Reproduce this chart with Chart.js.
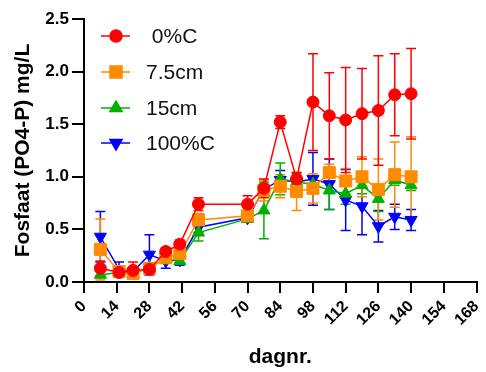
<!DOCTYPE html>
<html>
<head>
<meta charset="utf-8">
<script src="https://cdn.jsdelivr.net/npm/chart.js@4.4.1/dist/chart.umd.min.js"></script>
<style>
  html, body { margin: 0; padding: 0; background: #fff; }
  #wrap { width: 486px; height: 372px; }
</style>
</head>
<body>
<div id="wrap"><canvas id="myChart" width="486" height="372"></canvas></div>
<script>
// days of sampling
const days = [7, 15, 21, 28, 35, 41, 49, 70, 77, 84, 91, 98, 105, 112, 119, 126, 133, 140]
const seriesNames = [' 0%C', '7.5cm', '15cm', '100%C']

// means
const c0 = [0.13, 0.09, 0.11, 0.12, 0.29, 0.36, 0.74, 0.74, 0.89, 1.52, 0.98, 1.71, 1.58, 1.54, 1.60, 1.63, 1.78, 1.79]
const c75 = [0.31, 0.10, 0.08, 0.13, 0.23, 0.27, 0.59, 0.63, 0.87, 0.91, 0.86, 0.89, 1.04, 0.96, 1.00, 0.88, 1.02, 1.00]
const c15 = [0.07, 0.09, 0.08, 0.14, 0.22, 0.20, 0.47, 0.60, 0.68, 0.98, 0.95, 0.93, 0.87, 0.84, 0.92, 0.79, 0.97, 0.92]
const c100 = [0.43, 0.12, 0.10, 0.26, 0.20, 0.21, 0.52, 0.61, 0.88, 0.97, 0.95, 0.98, 0.93, 0.78, 0.72, 0.53, 0.62, 0.59]

// error (SD)
const e0 = [0.07, 0.03, 0.08, 0.05, 0.03, 0.04, 0.06, 0.08, 0.09, 0.06, 0.06, 0.46, 0.41, 0.50, 0.43, 0.52, 0.39, 0.43]
const e75 = [0.29, 0.05, 0.05, 0.05, 0.05, 0.05, 0.06, 0.05, 0.10, 0.11, 0.18, 0.14, 0.08, 0.12, 0.19, 0.29, 0.31, 0.38]
const e15 = [0.03, 0.03, 0.03, 0.03, 0.03, 0.03, 0.08, 0.03, 0.27, 0.15, 0.08, 0.06, 0.18, 0.10, 0.08, 0.12, 0.05, 0.05]
const e100 = [0.24, 0.07, 0.04, 0.19, 0.07, 0.05, 0.05, 0.04, 0.05, 0.09, 0.05, 0.25, 0.24, 0.29, 0.27, 0.15, 0.12, 0.10]

const xTicks = [0, 14, 28, 42, 56, 70, 84, 98, 112, 126, 140, 154, 168]
const yTicks = [0, 0.5, 1.0, 1.5, 2.0, 2.5]

const FONT = '"Liberation Sans", Arial, sans-serif'

function makeSet(label, vals, errs, color, style, radius, rotation) {
    return {
        label: label,
        data: days.map((d, i) => ({ x: d, y: vals[i] })),
        errors: errs,
        borderColor: color,
        backgroundColor: color,
        borderWidth: 1.5,
        pointStyle: style,
        pointRadius: radius,
        pointRotation: rotation || 0,
        pointBorderWidth: 1,
        showLine: true,
        tension: 0
    }
}

//draws error bars using the chart scales
const errorBars = {
    id: 'errorBars',
    beforeDatasetsDraw(chart) {
        const ctx = chart.ctx
        const xs = chart.scales.x, ys = chart.scales.y
        for (let i = chart.data.datasets.length - 1; i >= 0; i--) {
            const ds = chart.data.datasets[i]
            ctx.save()
            ctx.strokeStyle = ds.borderColor
            ctx.lineWidth = 1.5
            ds.data.forEach((p, j) => {
                const e = ds.errors[j]
                const px = xs.getPixelForValue(p.x)
                const t = ys.getPixelForValue(p.y + e)
                const b = ys.getPixelForValue(Math.max(0, p.y - e))
                ctx.beginPath()
                ctx.moveTo(px, t); ctx.lineTo(px, b)
                ctx.moveTo(px - 5, t); ctx.lineTo(px + 5, t)
                ctx.moveTo(px - 5, b); ctx.lineTo(px + 5, b)
                ctx.stroke()
            })
            ctx.restore()
        }
    }
}

//legend inside the plot, line + marker + text
const innerLegend = {
    id: 'innerLegend',
    afterDraw(chart) {
        const ctx = chart.ctx
        const rows = [36, 72, 108, 143]
        chart.data.datasets.forEach((ds, i) => {
            const y = rows[i]
            ctx.save()
            ctx.strokeStyle = ds.borderColor
            ctx.lineWidth = 1.5
            ctx.beginPath()
            ctx.moveTo(101, y); ctx.lineTo(130, y)
            ctx.stroke()
            ctx.fillStyle = ds.backgroundColor
            Chart.helpers.drawPoint(ctx, {
                pointStyle: ds.pointStyle,
                radius: ds.pointRadius,
                rotation: ds.pointRotation,
                borderWidth: 1
            }, 116, y)
            ctx.fillStyle = '#111'
            ctx.font = '21px ' + FONT
            ctx.textBaseline = 'middle'
            ctx.fillText(ds.label, 146, y + 1)
            ctx.restore()
        })
    }
}

const ctx = document.getElementById('myChart').getContext('2d')
new Chart(ctx, {
    type: 'scatter',
    data: {
        datasets: [
            makeSet(seriesNames[0], c0, e0, '#ff0000', 'circle', 6),
            makeSet(seriesNames[1], c75, e75, '#ff8c00', 'rect', 8.5),
            makeSet(seriesNames[2], c15, e15, '#00b000', 'triangle', 7),
            makeSet(seriesNames[3], c100, e100, '#0000ff', 'triangle', 7, 180)
        ]
    },
    options: {
        responsive: false,
        animation: false,
        clip: false,
        layout: { padding: { top: 19, right: 3, left: 0, bottom: 0 } },
        plugins: {
            legend: { display: false },
            tooltip: { enabled: false }
        },
        scales: {
            x: {
                type: 'linear',
                min: 0,
                max: 168,
                afterBuildTicks: s => { s.ticks = xTicks.map(v => ({ value: v })) },
                afterFit: s => { s.height = 90; s.paddingLeft = 0; s.paddingRight = 0 },
                grid: { drawOnChartArea: false, drawTicks: true, tickLength: 11, color: '#000', lineWidth: 2 },
                border: { color: '#000', width: 2 },
                ticks: {
                    color: '#000',
                    font: { family: FONT, size: 16, weight: 'bold' },
                    minRotation: 45,
                    maxRotation: 45,
                    padding: 4
                },
                title: {
                    display: true,
                    text: 'dagnr.',
                    color: '#000',
                    font: { family: FONT, size: 21, weight: 'bold' },
                    padding: { top: 0, bottom: 2 }
                }
            },
            y: {
                min: 0,
                max: 2.5,
                afterBuildTicks: s => { s.ticks = yTicks.map(v => ({ value: v })) },
                afterFit: s => { s.width = 84; s.paddingTop = 0; s.paddingBottom = 0 },
                grid: { drawOnChartArea: false, drawTicks: true, tickLength: 12, color: '#000', lineWidth: 2 },
                border: { color: '#000', width: 2 },
                ticks: {
                    color: '#000',
                    font: { family: FONT, size: 17, weight: 'bold' },
                    padding: 3,
                    callback: v => v.toFixed(1)
                },
                title: {
                    display: true,
                    text: 'Fosfaat (PO4-P) mg/L',
                    color: '#000',
                    font: { family: FONT, size: 21, weight: 'bold' },
                    padding: { top: 11, bottom: 0 }
                }
            }
        }
    },
    plugins: [errorBars, innerLegend]
})
</script>
</body>
</html>
